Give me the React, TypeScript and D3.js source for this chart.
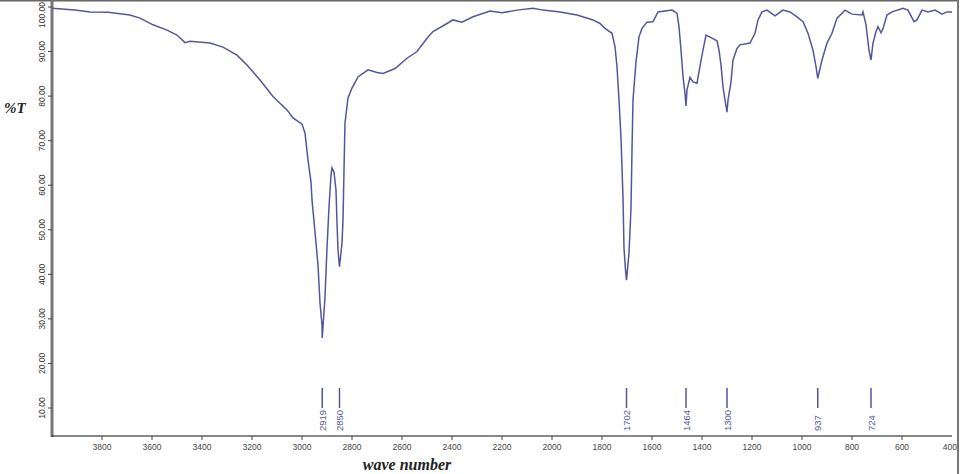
import React, { useEffect, useRef } from 'react';
import * as d3 from 'd3';

// spectrum (wavenumber cm-1 / %T)
const waveNumbers = [
  4000, 3908, 3848, 3776, 3688, 3648, 3596, 3540, 3500, 3468, 3448, 3368, 3316, 3260, 3220, 3168,
  3116, 3060, 3036, 3000, 2988, 2976, 2964, 2960, 2948, 2936, 2928, 2920, 2919, 2908, 2900, 2892,
  2884, 2880, 2872, 2864, 2860, 2856, 2850, 2840, 2836, 2832, 2828, 2816, 2800, 2776, 2736, 2700,
  2676, 2628, 2580, 2540, 2500, 2476, 2420, 2396, 2360, 2316, 2248, 2200, 2140, 2076, 2036, 1968,
  1900, 1836, 1808, 1788, 1760, 1748, 1740, 1732, 1724, 1716, 1712, 1706, 1702, 1692, 1684, 1680,
  1676, 1664, 1652, 1640, 1620, 1596, 1576, 1520, 1500, 1492, 1484, 1476, 1468, 1464, 1460, 1448,
  1436, 1420, 1412, 1400, 1384, 1360, 1340, 1332, 1324, 1316, 1308, 1300, 1296, 1284, 1276, 1260,
  1248, 1208, 1188, 1176, 1160, 1140, 1108, 1076, 1048, 1020, 996, 976, 956, 944, 937, 920,
  900, 880, 860, 828, 800, 760, 756, 744, 732, 724, 716, 704, 696, 684, 676, 660,
  640, 596, 576, 552, 540, 520, 496, 468, 440, 420, 400,
];
const transmittance = [
  99.7, 99.3, 98.9, 98.8, 98.2, 97.5, 96.0, 94.8, 93.7, 92.0, 92.3, 91.9, 91.0, 89.2, 87.0, 83.6,
  79.9, 76.9, 75.1, 73.7, 71.7, 65.7, 60.7, 56.7, 49.5, 42.1, 33.6, 28.6, 25.7, 34.9, 45.9, 55.1,
  62.3, 63.9, 63.0, 58.9, 51.5, 45.5, 41.7, 47.0, 52.2, 63.4, 74.0, 79.6, 81.8, 84.3, 85.9, 85.3,
  85.1, 86.2, 88.5, 90.0, 93.0, 94.5, 96.3, 97.1, 96.6, 97.8, 99.1, 98.7, 99.3, 99.7, 99.3, 98.9,
  98.2, 97.1, 96.3, 95.2, 94.1, 91.1, 86.6, 79.1, 70.6, 57.1, 45.9, 41.0, 38.7, 44.8, 54.9, 67.9,
  79.1, 87.7, 93.3, 95.2, 96.6, 96.7, 98.9, 99.3, 98.6, 95.6, 90.3, 84.4, 80.6, 77.8, 81.4, 84.2,
  83.2, 82.9, 85.5, 89.2, 93.7, 93.0, 92.4, 90.3, 87.0, 82.1, 79.1, 76.4, 79.1, 83.2, 88.1, 90.7,
  91.5, 91.9, 94.1, 97.1, 98.9, 99.3, 98.0, 99.3, 98.9, 97.8, 96.7, 94.1, 90.3, 86.6, 84.0, 88.1,
  91.9, 94.1, 97.5, 99.3, 98.4, 98.2, 98.9, 96.0, 90.3, 88.1, 91.9, 94.5, 95.6, 94.2, 95.2, 98.2,
  98.9, 99.7, 99.3, 96.7, 97.1, 99.3, 98.9, 99.3, 98.4, 98.9, 98.9,
];

const peakLabels = [2919, 2850, 1702, 1464, 1300, 937, 724];
const yTicks = [10, 20, 30, 40, 50, 60, 70, 80, 90, 100];
const xTicks = [3800, 3600, 3400, 3200, 3000, 2800, 2600, 2400, 2200, 2000, 1800, 1600, 1400, 1200, 1000, 800, 600, 400];

const W = 962;
const H = 474;
const LINE = '#55559c';

const Spectrum = () => {
  const svgRef = useRef<SVGSVGElement | null>(null);

  useEffect(() => {
    drawChart();
  }, []);

  const drawChart = () => {
    const svg = d3.select(svgRef.current);
    svg.selectAll('*').remove();

    const left = 52;
    const right = 952;
    const axisY = 436;

    const x = d3.scaleLinear().domain([4000, 400]).range([left, right]);
    const y = d3.scaleLinear().domain([100, 10]).range([7, 408]);

    // frame
    svg.append('line').attr('x1', 0).attr('x2', 959).attr('y1', 0.5).attr('y2', 0.5)
      .attr('stroke', '#666').attr('stroke-width', 2);
    svg.append('line').attr('x1', 958).attr('x2', 958).attr('y1', 0).attr('y2', H)
      .attr('stroke', '#777').attr('stroke-width', 2);

    // y axis
    svg.append('line').attr('x1', left).attr('x2', left).attr('y1', 0).attr('y2', axisY + 1)
      .attr('stroke', '#777').attr('stroke-width', 3);
    const yg = svg.append('g');
    yTicks.forEach(t => {
      yg.append('line').attr('x1', left - 4).attr('x2', left).attr('y1', y(t)).attr('y2', y(t))
        .attr('stroke', '#444');
      const cy = Math.max(y(t), 15);
      yg.append('text')
        .attr('transform', `translate(42,${cy}) rotate(-90)`)
        .attr('text-anchor', 'middle')
        .attr('dominant-baseline', 'central')
        .attr('font-family', 'Arial, "Liberation Sans", sans-serif')
        .attr('font-size', 8.5)
        .attr('fill', '#333')
        .text(t.toFixed(2));
    });

    // x axis
    svg.append('line').attr('x1', left).attr('x2', right).attr('y1', axisY).attr('y2', axisY)
      .attr('stroke', '#111').attr('stroke-width', 1);
    const xg = svg.append('g');
    xTicks.forEach((t, i) => {
      const last = i === xTicks.length - 1;
      if (!last) {
        xg.append('line').attr('x1', x(t)).attr('x2', x(t)).attr('y1', axisY).attr('y2', axisY + 4)
          .attr('stroke', '#444');
      }
      xg.append('text')
        .attr('x', last ? x(t) + 5 : x(t))
        .attr('y', axisY + 14)
        .attr('text-anchor', last ? 'end' : 'middle')
        .attr('font-family', 'Arial, "Liberation Sans", sans-serif')
        .attr('font-size', 8.5)
        .attr('fill', '#444')
        .text(t);
    });

    // spectrum
    const pts = waveNumbers.map((w, i) => [w, transmittance[i]] as [number, number]);
    const line = d3.line<[number, number]>().x(d => x(d[0])).y(d => y(d[1]));
    svg.append('path').datum(pts).attr('d', line)
      .attr('fill', 'none').attr('stroke', LINE).attr('stroke-width', 1.5);

    // peak markers
    const pg = svg.append('g');
    peakLabels.forEach(p => {
      pg.append('line').attr('x1', x(p)).attr('x2', x(p)).attr('y1', 388).attr('y2', 408)
        .attr('stroke', LINE).attr('stroke-width', 1.5);
      pg.append('text')
        .attr('transform', `translate(${x(p)},431) rotate(-90)`)
        .attr('text-anchor', 'start')
        .attr('dominant-baseline', 'central')
        .attr('font-family', 'Arial, "Liberation Sans", sans-serif')
        .attr('font-size', 9.5)
        .attr('fill', LINE)
        .text(p);
    });

    // titles
    svg.append('text').attr('x', 4).attr('y', 113)
      .attr('font-family', '"Liberation Serif", "Times New Roman", serif')
      .attr('font-style', 'italic').attr('font-weight', 'bold').attr('font-size', 15)
      .attr('fill', '#222').text('%T');
    svg.append('text').attr('x', 407).attr('y', 470).attr('text-anchor', 'middle')
      .attr('font-family', '"Liberation Serif", "Times New Roman", serif')
      .attr('font-style', 'italic').attr('font-weight', 'bold').attr('font-size', 16)
      .attr('fill', '#222').text('wave number');
  };

  return (
    <svg
      ref={svgRef}
      width={W}
      height={H}
      style={{ position: 'absolute', left: 0, top: 0, background: '#fff' }}
    ></svg>
  );
};

export default function App() {
  return <Spectrum />;
}
